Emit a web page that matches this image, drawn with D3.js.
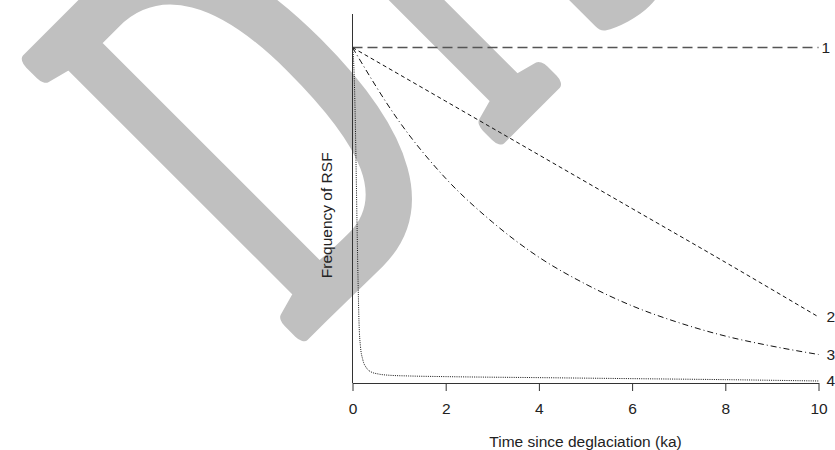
<!DOCTYPE html>
<html>
<head>
<meta charset="utf-8">
<script src="https://cdn.jsdelivr.net/npm/d3@7"></script>
<style>
  html, body { margin: 0; padding: 0; background: #fff; }
</style>
</head>
<body>
<div id="chart"></div>
<script>
const width = 835;
const height = 450;

// values
const xTicks = [0, 2, 4, 6, 8, 10];
const seriesNames = ["1", "2", "3", "4"];
const times1 = [0, 10];
const freq1 = [1, 1];
const times2 = [0, 2, 4, 6, 8, 10];
const freq2 = [1, 0.84, 0.68, 0.52, 0.36, 0.197];
const times3 = [0, 1, 2, 3, 4, 5, 6, 7, 8, 9, 10];
const freq3 = [1, 0.78, 0.61, 0.48, 0.375, 0.295, 0.23, 0.18, 0.14, 0.11, 0.085];
const times4 = [0, 0.02, 0.04, 0.06, 0.08, 0.1, 0.12, 0.14, 0.17, 0.22, 0.3, 0.4, 0.55, 0.8, 1.2, 2, 4, 6, 8, 10];
const freq4 = [1, 0.97, 0.9, 0.78, 0.62, 0.45, 0.3, 0.18, 0.11, 0.07, 0.045, 0.033, 0.027, 0.023, 0.021, 0.019, 0.016, 0.013, 0.01, 0.006];

const margin = {top: 14, right: 16.5, bottom: 67, left: 352.5};
const fontSize = 15.5;

const svg = d3.create("svg")
    .attr("width", width)
    .attr("height", height)
    .attr("viewBox", [0, 0, width, height])
    .attr("style", "display:block; font-family: 'Liberation Sans', Arial, sans-serif;");

svg.append("rect").attr("width", width).attr("height", height).attr("fill", "#fff");

// gray watermark lettering behind the plot
const mark = svg.append("text")
    .attr("transform", "translate(293,339) rotate(-45) scale(0.569,1)")
    .attr("font-family", "'Liberation Serif', 'Times New Roman', serif")
    .attr("font-size", 581)
    .attr("letter-spacing", 74)
    .attr("fill", "#c0c0c0")
    .attr("stroke", "#c0c0c0")
    .attr("stroke-width", 22)
    .attr("stroke-linejoin", "round");
mark.append("tspan").text("Di");
mark.append("tspan").attr("dx", 22).text("scussion");

const x = d3.scaleLinear()
    .domain([0, 10])
    .range([margin.left, width - margin.right]);

const y = d3.scaleLinear()
    .domain([0, 1.1])
    .range([height - margin.bottom, margin.top]);

const series = [
    {name: seriesNames[0], t: times1, v: freq1, dash: "10,5", color: "#555", w: 1.4, dx: 3},
    {name: seriesNames[1], t: times2, v: freq2, dash: "4,3", color: "#111", w: 1, dx: 8},
    {name: seriesNames[2], t: times3, v: freq3, dash: "6,3,1,3", color: "#111", w: 1, dx: 8},
    {name: seriesNames[3], t: times4, v: freq4, dash: "1,1.2", color: "#111", w: 1, dx: 8}
];

const line = d3.line()
    .x(d => x(d[0]))
    .y(d => y(d[1]))
    .curve(d3.curveMonotoneX);

svg.append("g")
    .attr("fill", "none")
    .selectAll("path")
    .data(series)
    .join("path")
    .attr("stroke", d => d.color)
    .attr("stroke-width", d => d.w)
    .attr("stroke-dasharray", d => d.dash)
    .attr("d", d => line(d.t.map((t, i) => [t, d.v[i]])));

// curve numbers at the right end
svg.append("g")
    .attr("font-size", fontSize)
    .attr("fill", "#222")
    .selectAll("text")
    .data(series)
    .join("text")
    .attr("x", d => x(10) + d.dx)
    .attr("y", d => y(d.v[d.v.length - 1]))
    .attr("dy", "0.35em")
    .text(d => d.name);

// x axis
const xAxis = svg.append("g")
    .attr("transform", `translate(0,${y(0)})`)
    .call(d3.axisBottom(x).tickValues(xTicks).tickSize(8).tickPadding(12).tickSizeOuter(0));
xAxis.select(".domain").attr("stroke", "#333");
xAxis.selectAll(".tick line").attr("stroke", "#333");
xAxis.selectAll(".tick text")
    .attr("font-family", "'Liberation Sans', Arial, sans-serif")
    .attr("font-size", fontSize)
    .attr("fill", "#222");

// y axis: plain line, no ticks
svg.append("line")
    .attr("x1", x(0)).attr("x2", x(0))
    .attr("y1", y(0)).attr("y2", y(1.1))
    .attr("stroke", "#333");

svg.append("text")
    .attr("x", (x(0) + x(10)) / 2)
    .attr("y", 447)
    .attr("text-anchor", "middle")
    .attr("font-size", fontSize)
    .attr("fill", "#222")
    .text("Time since deglaciation (ka)");

svg.append("text")
    .attr("transform", `translate(332,${y(0.5)}) rotate(-90)`)
    .attr("text-anchor", "middle")
    .attr("font-size", fontSize)
    .attr("fill", "#222")
    .text("Frequency of RSF");

document.getElementById("chart").appendChild(svg.node());
</script>
</body>
</html>
